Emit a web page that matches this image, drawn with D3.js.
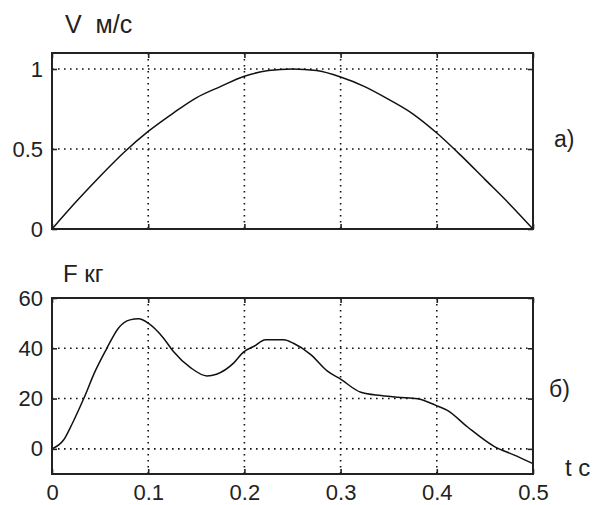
<!DOCTYPE html>
<html>
<head>
<meta charset="utf-8">
<script src="https://cdn.jsdelivr.net/npm/d3@7"></script>
<style>
  body { margin: 0; background: #fff; }
  svg { display: block; }
  text { font-family: "Liberation Sans", Arial, sans-serif; fill: #222; }
</style>
</head>
<body>
<div id="wrap"></div>
<script>
// velocity (top) and force (bottom) over time
const tV = [0, 0.025, 0.05, 0.075, 0.1, 0.125, 0.15, 0.175, 0.2, 0.225, 0.25,
  0.275, 0.3, 0.325, 0.35, 0.375, 0.4, 0.425, 0.45, 0.475, 0.5];
const vV = [0, 0.17, 0.33, 0.48, 0.61, 0.72, 0.82, 0.89, 0.955, 0.99, 1.0,
  0.99, 0.95, 0.89, 0.81, 0.72, 0.60, 0.46, 0.31, 0.16, 0];

const tF = [0, 0.012, 0.021, 0.033, 0.045, 0.057, 0.069, 0.081, 0.09, 0.1,
  0.116, 0.126, 0.144, 0.161, 0.171, 0.189, 0.199, 0.21, 0.222, 0.241,
  0.251, 0.269, 0.286, 0.3, 0.321, 0.342, 0.359, 0.38, 0.399, 0.411,
  0.432, 0.46, 0.48, 0.5];
const fF = [0, 3.5, 10, 20, 31, 40, 48, 51.3, 51.7, 50,
  44, 38.8, 32.3, 29, 29.7, 34.2, 38.5, 40.8, 43.4, 43.4,
  42, 37.5, 31, 27.7, 22.5, 21.2, 20.5, 19.9, 17.3, 15.3,
  8.7, 0.9, -2.4, -5.9];

const xTicks = [0, 0.1, 0.2, 0.3, 0.4, 0.5];
const xTickLabels = ["0", "0.1", "0.2", "0.3", "0.4", "0.5"];
const vTicks = [0, 0.5, 1];
const vTickLabels = ["0", "0.5", "1"];
const fTicks = [0, 20, 40, 60];
const fTickLabels = ["0", "20", "40", "60"];

const W = 596, H = 505;
const left = 52, right = 533;

const svg = d3.select("#wrap").append("svg")
  .attr("width", W).attr("height", H);

const x = d3.scaleLinear().domain([0, 0.5]).range([left, right]);

// one framed panel with dotted grid, inward ticks and a curve
function panel(top, bottom, yDomain, yTicks, yLabels, ts, vs, showX) {
  const y = d3.scaleLinear().domain(yDomain).range([bottom, top]);
  const g = svg.append("g");

  // dotted grid
  g.selectAll(".vg").data(xTicks.slice(1, -1)).enter().append("line")
    .attr("x1", d => x(d)).attr("x2", d => x(d))
    .attr("y1", top).attr("y2", bottom)
    .attr("stroke", "#111").attr("stroke-width", 1.6)
    .attr("stroke-dasharray", "1.6,4.4");
  g.selectAll(".hg").data(yTicks.filter(d => y(d) > top + 2 && y(d) < bottom - 2))
    .enter().append("line")
    .attr("x1", left).attr("x2", right)
    .attr("y1", d => y(d)).attr("y2", d => y(d))
    .attr("stroke", "#111").attr("stroke-width", 1.6)
    .attr("stroke-dasharray", "1.6,4.4");

  // curve
  const line = d3.line()
    .x(d => x(d[0])).y(d => y(d[1]))
    .curve(d3.curveMonotoneX);
  g.append("path")
    .datum(ts.map((t, i) => [t, vs[i]]))
    .attr("d", line)
    .attr("fill", "none").attr("stroke", "#111").attr("stroke-width", 1.5);

  // axes with inward ticks
  const yl = d3.axisLeft(y).tickValues(yTicks)
    .tickFormat((d, i) => yLabels[i]).tickSizeInner(-5).tickSizeOuter(0).tickPadding(9);
  const ya = g.append("g").attr("transform", `translate(${left},0)`).call(yl);
  g.append("g").attr("transform", `translate(${right},0)`)
    .call(d3.axisRight(y).tickValues(yTicks).tickFormat("").tickSizeInner(-5).tickSizeOuter(0));
  g.append("g").attr("transform", `translate(0,${top})`)
    .call(d3.axisTop(x).tickValues(xTicks).tickFormat("").tickSizeInner(-5).tickSizeOuter(0));
  const xb = d3.axisBottom(x).tickValues(xTicks).tickSizeInner(-5).tickSizeOuter(0)
    .tickFormat((d, i) => showX ? xTickLabels[i] : "").tickPadding(10);
  const xa = g.append("g").attr("transform", `translate(0,${bottom})`).call(xb);

  [ya, xa].forEach(a => {
    a.select(".domain").remove();
    a.selectAll("text").style("font-size", "22px").attr("fill", "#222");
  });
  g.selectAll(".tick line").attr("stroke", "#222").attr("stroke-width", 1.6);
  g.selectAll(".domain").remove();

  // frame
  g.append("rect")
    .attr("x", left).attr("y", top)
    .attr("width", right - left).attr("height", bottom - top)
    .attr("fill", "none").attr("stroke", "#222").attr("stroke-width", 2);
}

panel(53, 229, [0, 1.1], vTicks, vTickLabels, tV, vV, false);
panel(298, 474, [-10, 60], fTicks, fTickLabels, tF, fF, true);

// labels
function label(txt, px, py, size) {
  svg.append("text").attr("x", px).attr("y", py)
    .style("font-size", size + "px").text(txt);
}
label("V\u00a0\u00a0м/с", 65, 33, 25);
label("а)", 554, 147, 23);
label("F кг", 63, 282, 24);
label("б)", 549, 397, 23);
label("t c", 565, 476, 24);
</script>
</body>
</html>
